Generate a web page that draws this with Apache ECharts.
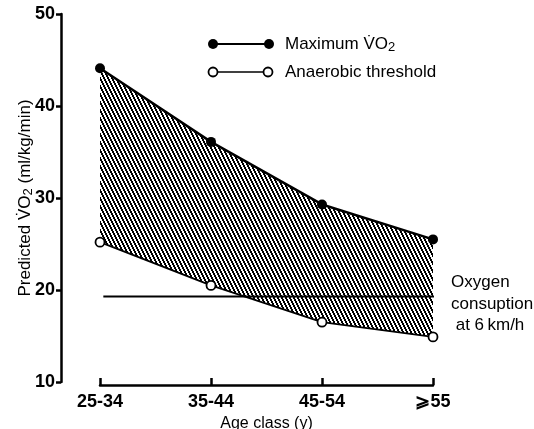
<!DOCTYPE html>
<html>
<head>
<meta charset="utf-8">
<script src="https://cdn.jsdelivr.net/npm/echarts@6/dist/echarts.min.js"></script>
<style>
  html, body { margin: 0; padding: 0; background: #fff; }
  #chart { width: 534px; height: 429px; }
</style>
</head>
<body>
<div id="chart"></div>
<script>
// age classes and values
const ageClasses = ['25-34', '35-44', '45-54', '\u2A7E55']
const maxVO2 = [44.1, 36.1, 29.3, 25.5]
const anaerobic = [25.2, 20.5, 16.5, 14.9]
// oxygen consumption at 6 km/h (horizontal line, x in category units)
const oxygenX = [0.03, 3.12]
const oxygenY = 19.3
const yTicks = [10, 20, 30, 40, 50]

const font = '"Liberation Sans", Arial, sans-serif'

// hatch pattern: dense diagonal black lines
function makeHatch() {
  const c = document.createElement('canvas')
  c.width = 4
  c.height = 8
  const ctx = c.getContext('2d')
  const img = ctx.createImageData(4, 8)
  for (let y = 0; y < 8; y++) {
    for (let x = 0; x < 4; x++) {
      const v = ((x - y / 2) % 4 + 4) % 4
      const on = v < 2
      const i = (y * 4 + x) * 4
      img.data[i] = on ? 0 : 255
      img.data[i + 1] = on ? 0 : 255
      img.data[i + 2] = on ? 0 : 255
      img.data[i + 3] = 255
    }
  }
  ctx.putImageData(img, 0, 0)
  return c
}

const band = maxVO2.map((v, i) => +(v - anaerobic[i]).toFixed(2))

// text with subscript 2
const subRich = (size) => ({
  a: { fontFamily: font, fontSize: size, color: '#000' },
  s: { fontFamily: font, fontSize: size - 4, color: '#000', padding: [7, 0, 0, 0] }
})

const myChart = echarts.init(document.getElementById('chart'))
const option = {
  animation: false,
  backgroundColor: '#fff',
  grid: { left: 100, right: 101, top: 14, bottom: 47, containLabel: false, outerBoundsMode: 'none' },
  xAxis: [{
    type: 'category',
    data: ageClasses,
    boundaryGap: false,
    offset: 3,
    axisLine: { onZero: false, lineStyle: { color: '#000', width: 2.5 } },
    axisTick: { inside: true, length: 7, lineStyle: { color: '#000', width: 2.5 } },
    axisLabel: { color: '#000', fontFamily: font, fontWeight: 'bold', fontSize: 18, margin: 8 },
    name: 'Age class (y)',
    nameLocation: 'middle',
    nameGap: 31,
    nameTextStyle: { color: '#000', fontFamily: font, fontSize: 16 }
  }, {
    type: 'value',
    min: 0,
    max: 3,
    show: false
  }],
  yAxis: {
    type: 'value',
    min: 10,
    max: 50,
    interval: 10,
    offset: 39,
    splitLine: { show: false },
    axisLine: { show: true, onZero: false, lineStyle: { color: '#000', width: 2.5 } },
    axisTick: { show: true, length: 5, lineStyle: { color: '#000', width: 2.5 } },
    axisLabel: { color: '#000', fontFamily: font, fontWeight: 'bold', fontSize: 18, margin: 6,
      formatter: v => yTicks.includes(v) ? String(v) : '' }
  },
  graphic: [
    // y axis title
    { type: 'text', x: 25, y: 198, rotation: Math.PI / 2,
      style: { text: '{a|Predicted V\u0307O}{s|2}{a| (ml/kg/min)}', rich: subRich(17), align: 'center', verticalAlign: 'middle' } },
    // legend
    { type: 'line', shape: { x1: 213, y1: 44, x2: 269, y2: 44 }, style: { stroke: '#000', lineWidth: 2 } },
    { type: 'circle', shape: { cx: 213, cy: 44, r: 5 }, style: { fill: '#000' } },
    { type: 'circle', shape: { cx: 269, cy: 44, r: 5 }, style: { fill: '#000' } },
    { type: 'text', x: 285, y: 44, style: { text: '{a|Maximum V\u0307O}{s|2}', rich: subRich(17), verticalAlign: 'middle' } },
    { type: 'line', shape: { x1: 213, y1: 72, x2: 268, y2: 72 }, style: { stroke: '#000', lineWidth: 1.5 } },
    { type: 'circle', shape: { cx: 213, cy: 72, r: 4.5 }, style: { fill: '#fff', stroke: '#000', lineWidth: 1.8 } },
    { type: 'circle', shape: { cx: 268, cy: 72, r: 4.5 }, style: { fill: '#fff', stroke: '#000', lineWidth: 1.8 } },
    { type: 'text', x: 285, y: 72, style: { text: 'Anaerobic threshold', fill: '#000', font: '17px ' + font, verticalAlign: 'middle' } },
    // annotation
    { type: 'text', left: 451, top: 272, style: { text: 'Oxygen\nconsuption\n at 6\u2009km/h', fill: '#000', font: '17px ' + font, lineHeight: 21.5 } }
  ],
  series: [
    {
      name: 'base',
      type: 'line',
      stack: 'band',
      data: anaerobic,
      symbol: 'none',
      lineStyle: { opacity: 0 },
      silent: true
    },
    {
      name: 'band',
      type: 'line',
      stack: 'band',
      data: band,
      symbol: 'none',
      lineStyle: { opacity: 0 },
      areaStyle: { color: { image: makeHatch(), repeat: 'repeat' }, opacity: 1 },
      silent: true
    },
    {
      name: 'Oxygen consumption',
      type: 'line',
      xAxisIndex: 1,
      data: oxygenX.map(x => [x, oxygenY]),
      symbol: 'none',
      clip: false,
      lineStyle: { color: '#000', width: 2 }
    },
    {
      name: 'Maximum VO2',
      type: 'line',
      data: maxVO2,
      symbol: 'circle',
      symbolSize: 10,
      itemStyle: { color: '#000' },
      lineStyle: { color: '#000', width: 2.5 }
    },
    {
      name: 'Anaerobic threshold',
      type: 'line',
      data: anaerobic,
      symbol: 'circle',
      symbolSize: 9,
      itemStyle: { color: '#fff', borderColor: '#000', borderWidth: 1.8 },
      lineStyle: { color: '#000', width: 1.8 }
    }
  ]
}
myChart.setOption(option)
</script>
</body>
</html>
